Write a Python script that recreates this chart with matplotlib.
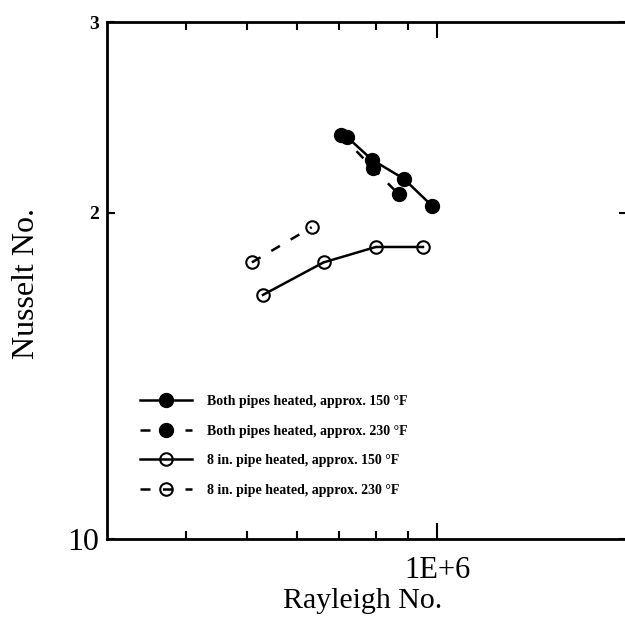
import matplotlib.pyplot as plt
from matplotlib.ticker import FixedLocator, NullLocator, NullFormatter

plt.rcParams['font.family'] = 'Liberation Serif'

# Nusselt vs Rayleigh number, two pipe configurations at two temperatures
both_150_ra = [7.20e5, 7.88e5, 8.86e5, 9.82e5]
both_150_nu = [23.5, 22.4, 21.5, 20.3]
both_230_ra = [7.04e5, 7.91e5, 8.70e5]
both_230_nu = [23.6, 22.0, 20.8]
pipe8_150_ra = [5.30e5, 6.61e5, 8.00e5, 9.50e5]
pipe8_150_nu = [16.8, 18.0, 18.6, 18.6]
pipe8_230_ra = [5.09e5, 6.33e5]
pipe8_230_nu = [18.0, 19.4]

labels = ["Both pipes heated, approx. 150 \u00b0F",
          "Both pipes heated, approx. 230 \u00b0F",
          "8 in. pipe heated, approx. 150 \u00b0F",
          "8 in. pipe heated, approx. 230 \u00b0F"]

x_major = [1e6]
x_major_labels = ["1E+6"]
x_minor = [4e5, 5e5, 6e5, 7e5, 8e5, 9e5]
y_major = [10, 20, 30]
y_major_labels = ["10", "2", "3"]

fig = plt.figure(figsize=(6.25, 6.17), dpi=100)
ax = fig.add_axes([0.1712, 0.1264, 0.832, 0.8379])
ax.set_xscale('log')
ax.set_yscale('log')

dash = (4, 5)
ax.plot(both_150_ra, both_150_nu, color='black', lw=1.8, marker='o', ms=10,
        label=labels[0])
ax.plot(both_230_ra, both_230_nu, color='black', lw=1.8, dashes=dash,
        marker='o', ms=10, label=labels[1])
ax.plot(pipe8_150_ra, pipe8_150_nu, color='black', lw=1.8, marker='o', ms=9,
        mfc='none', mew=1.5, label=labels[2])
ax.plot(pipe8_230_ra, pipe8_230_nu, color='black', lw=1.8, dashes=dash,
        marker='o', ms=9, mfc='none', mew=1.5, label=labels[3])

ax.set_xlim(3e5, 2e6)
ax.set_ylim(10, 30)

ax.xaxis.set_major_locator(FixedLocator(x_major))
ax.set_xticklabels(x_major_labels)
ax.xaxis.set_minor_locator(FixedLocator(x_minor))
ax.xaxis.set_minor_formatter(NullFormatter())
ax.yaxis.set_major_locator(FixedLocator(y_major))
ax.set_yticklabels(y_major_labels)
ax.yaxis.set_minor_locator(NullLocator())
ax.yaxis.set_minor_formatter(NullFormatter())

ax.tick_params(which='both', direction='in', top=True, right=True, width=1.5)
ax.tick_params(axis='x', which='major', length=11.5, labelsize=22, pad=12)
ax.tick_params(axis='x', which='minor', length=6)
ax.tick_params(axis='y', which='major', length=6, labelsize=23, pad=6)
for lbl in ax.get_yticklabels()[1:]:
    lbl.set_fontsize(14)
    lbl.set_fontweight('bold')

for sp in ax.spines.values():
    sp.set_linewidth(2)

ax.set_xlabel("Rayleigh No.", fontsize=21.5)
ax.xaxis.set_label_coords(0.492, -0.094)
ax.set_ylabel("Nusselt No.", fontsize=23)
ax.yaxis.set_label_coords(-0.127, 0.495)

ax.legend(loc='center left', bbox_to_anchor=(0.064, 0.18), frameon=False,
          borderpad=0, borderaxespad=0, handlelength=3.75, handletextpad=1.08,
          labelspacing=1.2, numpoints=1, prop={'weight': 'bold', 'size': 10})

fig.savefig('out.png', dpi=100)
